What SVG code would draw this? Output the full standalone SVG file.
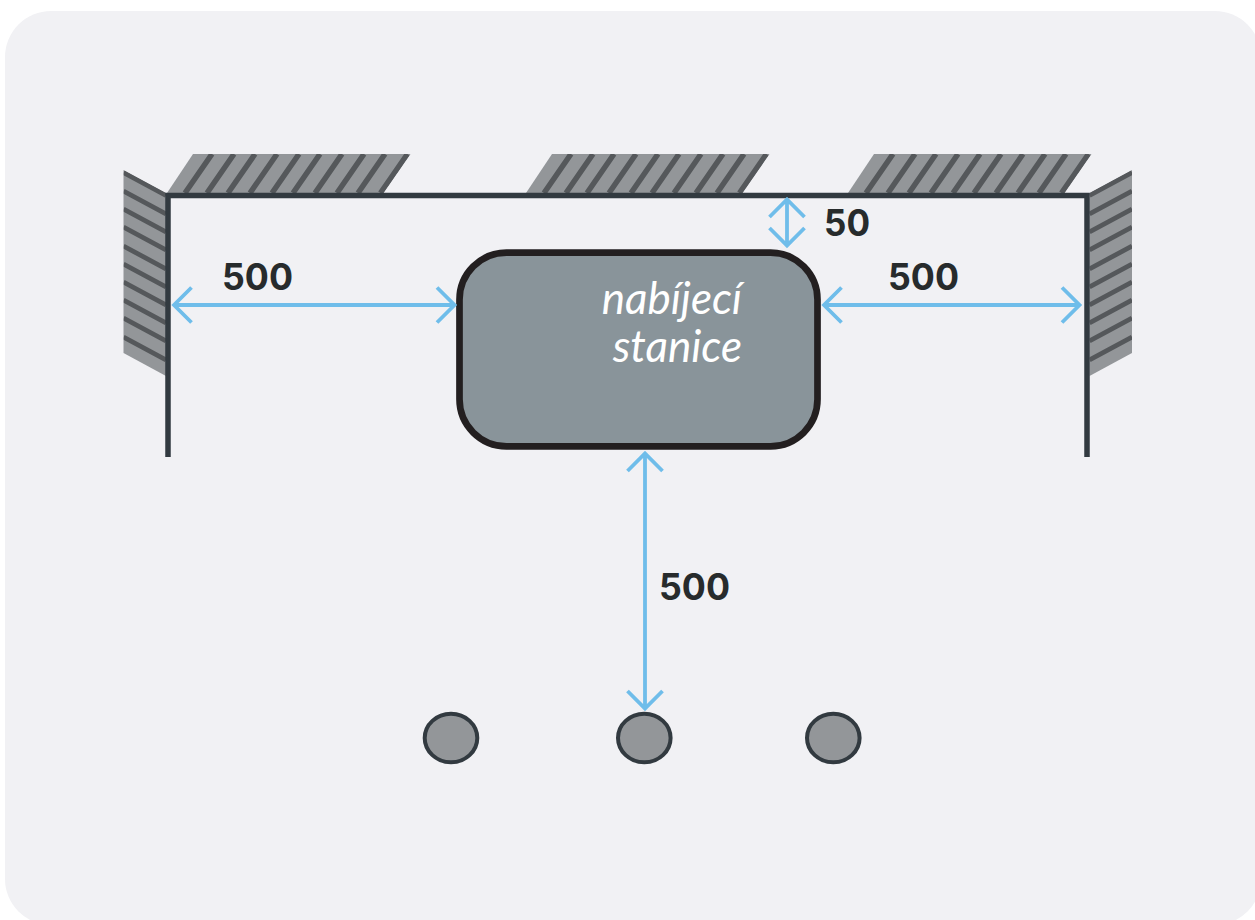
<svg xmlns="http://www.w3.org/2000/svg" width="1255" height="920" viewBox="0 0 1255 920">
<style>
.wall{fill:#939699}
.hatch{stroke:#55585b;fill:none}
.top{stroke-width:5.500;clip-path:url(#topClip)}
.side{stroke-width:4.800;clip-path:url(#sideClip)}
.line{stroke:#323a40;stroke-width:5.500;fill:none}
.dim{stroke:#6fbdea;stroke-width:3.800;fill:none}
.lbl{font-family:"Inter","Liberation Sans",sans-serif;font-weight:700;font-size:37px;fill:#272b2c}
.name{font-family:"Lato","Noto Sans",sans-serif;font-style:italic;font-weight:400;font-size:44px;fill:#fff;text-anchor:end}
.post{fill:#939699;stroke:#323a40;stroke-width:4}
</style>
<defs>
<clipPath id="topClip"><polygon points="26,0 243.500,0 216.500,39 0,39"/></clipPath>
<clipPath id="sideClip"><polygon points="0,0 42.500,23 42.500,206 0,183"/></clipPath>
<g id="topHatch">
<polygon class="wall" points="26,0 243.500,0 216.500,39 0,39"/>
<path class="hatch top" d="M45,0L18,39M67,0L40,39M88,0L61,39M110,0L83,39M132,0L105,39M153,0L126,39M175,0L148,39M197,0L170,39M218,0L191,39M240.500,0L213.500,39"/>
</g>
<g id="sideHatch">
<polygon class="wall" points="0,0 42.500,23 42.500,206 0,183"/>
<path class="hatch side" d="M0,2.500L42.500,25.500M0,21L42.500,44M0,39L42.500,62M0,57L42.500,80M0,76L42.500,99M0,94L42.500,117M0,112L42.500,135M0,130L42.500,153M0,148L42.500,171M0,167L42.500,190"/>
</g>
</defs>
<rect id="panel" x="5" y="11" width="1256" height="914" rx="46" fill="#f1f1f4"/>
<g id="wall-top-1"><use href="#topHatch" x="167" y="154"/></g>
<g id="wall-top-2"><use href="#topHatch" x="526" y="154"/></g>
<g id="wall-top-3"><use href="#topHatch" x="848" y="154"/></g>
<g id="wall-left"><use href="#sideHatch" x="123.500" y="170"/></g>
<g id="wall-right"><use href="#sideHatch" transform="translate(1132,170) scale(-1,1)"/></g>
<g id="garage-outline"><path class="line" d="M168,457V195.500H1087V457"/></g>
<g id="station">
<rect x="459.500" y="252.700" width="358" height="193.600" rx="47" fill="#89949a" stroke="#231f20" stroke-width="6.700"/>
<text class="name" x="742" y="314">nabíjecí</text>
<text class="name" x="742" y="362">stanice</text>
</g>
<g id="post-1"><ellipse class="post" cx="451" cy="738" rx="26.300" ry="24.200"/></g>
<g id="post-2"><ellipse class="post" cx="644.300" cy="738" rx="26.300" ry="24.200"/></g>
<g id="post-3"><ellipse class="post" cx="833.300" cy="738" rx="26.300" ry="24.200"/></g>
<g id="connectors">
<path class="dim" d="M174,305H454.500M191.500,287.500L174,305L191.500,322.500M437,287.500L454.500,305L437,322.500"/>
<path class="dim" d="M824,305H1079.500M841.500,287.500L824,305L841.500,322.500M1062,287.500L1079.500,305L1062,322.500"/>
<path class="dim" d="M645,453.500V708.500M627.500,471L645,453.500L662.500,471M627.500,691L645,708.500L662.500,691"/>
<path class="dim" d="M787,199.500V245.500M769.500,217L787,199.500L804.500,217M769.500,228L787,245.500L804.500,228"/>
</g>
<g id="labels">
<text class="lbl" x="222" y="290" textLength="71" lengthAdjust="spacingAndGlyphs">500</text>
<text class="lbl" x="888" y="290" textLength="71" lengthAdjust="spacingAndGlyphs">500</text>
<text class="lbl" x="659" y="600" textLength="71" lengthAdjust="spacingAndGlyphs">500</text>
<text class="lbl" x="824" y="236" textLength="46" lengthAdjust="spacingAndGlyphs">50</text>
</g>
</svg>
